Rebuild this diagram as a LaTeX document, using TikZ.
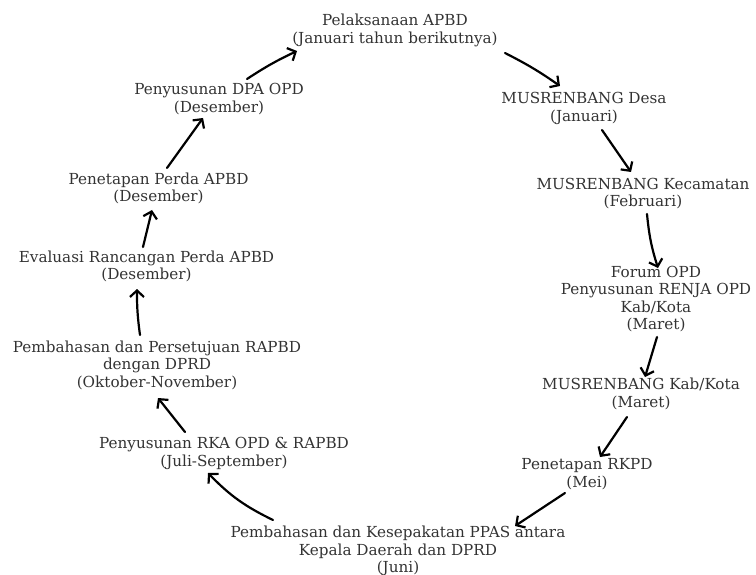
\documentclass[tikz,border=0pt]{standalone}
\usepackage{fontspec}
\setmainfont{DejaVu Serif}
\usetikzlibrary{arrows.meta,calc}
\definecolor{txt}{HTML}{333333}
\tikzset{
  lbl/.style={align=center, inner sep=0pt, text=txt, font=\fontsize{15.2}{17.5}\selectfont},
  flow/.style={line width=2.2pt, -{Straight Barb[length=6.5pt,width=14pt,line width=2.2pt]}, line cap=round}
}
\begin{document}
\begin{tikzpicture}[x=1pt,y=-1pt]
\useasboundingbox (0,0) rectangle (756,575);
\node[lbl] (n1) at (395,30.5) {Pelaksanaan APBD\\(Januari tahun berikutnya)};
\node[lbl] (n2) at (584,108.5) {MUSRENBANG Desa\\(Januari)};
\node[lbl] (n3) at (643,193.5) {MUSRENBANG Kecamatan\\(Februari)};
\node[lbl] (n4) at (656,299) {Forum OPD\\Penyusunan RENJA OPD\\Kab/Kota\\(Maret)};
\node[lbl] (n5) at (641,394) {MUSRENBANG Kab/Kota\\(Maret)};
\node[lbl] (n6) at (587,474) {Penetapan RKPD\\(Mei)};
\node[lbl] (n7) at (398,551) {Pembahasan dan Kesepakatan PPAS antara\\Kepala Daerah dan DPRD\\(Juni)};
\node[lbl] (n8) at (224,453.5) {Penyusunan RKA OPD \& RAPBD\\(Juli-September)};
\node[lbl] (n9) at (157,365) {Pembahasan dan Persetujuan RAPBD\\dengan DPRD\\(Oktober-November)};
\node[lbl] (n10) at (146.5,266.5) {Evaluasi Rancangan Perda APBD\\(Desember)};
\node[lbl] (n11) at (158.5,188.5) {Penetapan Perda APBD\\(Desember)};
\node[lbl] (n12) at (219,99) {Penyusunan DPA OPD\\(Desember)};

\draw[flow] ($(n12)+(28,-20)$) to[bend left=4] ($(n1)+(-98,20.5)$);
\draw[flow] ($(n1)+(110,22.5)$) to[bend left=4] ($(n2)+(-24,-22.5)$);
\draw[flow] ($(n2)+(18,21.5)$) to ($(n3)+(-12,-21.5)$);
\draw[flow] ($(n3)+(4,20.5)$) to[bend right=6] ($(n4)+(2,-31)$);
\draw[flow] ($(n4)+(1,38)$) to ($(n5)+(4,-17)$);
\draw[flow] ($(n5)+(-14,23)$) to ($(n6)+(13,-17)$);
\draw[flow] ($(n6)+(-22,19)$) to ($(n7)+(117,-25)$);
\draw[flow] ($(n7)+(-125,-31)$) to[bend left=10] ($(n8)+(-16,19.5)$);
\draw[flow] ($(n8)+(-39,-21.5)$) to ($(n9)+(1,33)$);
\draw[flow] ($(n9)+(-17,-30)$) to[bend left=4] ($(n10)+(-9.5,22.5)$);
\draw[flow] ($(n10)+(-3.5,-19.5)$) to ($(n11)+(-6.5,21.5)$);
\draw[flow] ($(n11)+(8.5,-20.5)$) to ($(n12)+(-16,19)$);
\end{tikzpicture}
\end{document}
